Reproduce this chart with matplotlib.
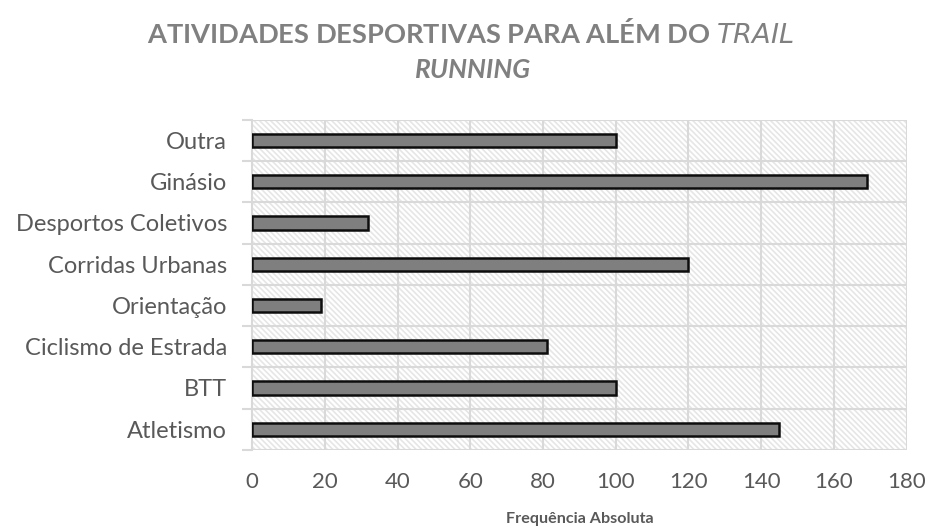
import matplotlib.pyplot as plt
from matplotlib.patches import Rectangle

# Data (bottom to top)
categories = [
    "Atletismo",
    "BTT",
    "Ciclismo de Estrada",
    "Orientação",
    "Corridas Urbanas",
    "Desportos Coletivos",
    "Ginásio",
    "Outra",
]
frequencies = [145, 100, 81, 19, 120, 32, 169, 100]
x_ticks = [0, 20, 40, 60, 80, 100, 120, 140, 160, 180]

plt.rcParams["font.family"] = ["Lato", "DejaVu Sans"]
plt.rcParams["hatch.color"] = "#e6e6e6"
plt.rcParams["hatch.linewidth"] = 1.2

fig = plt.figure(figsize=(9.27, 5.28), dpi=100)
ax = fig.add_axes([0.272, 0.148, 0.706, 0.625])

# Hatched background of the plot area
ax.add_patch(
    Rectangle(
        (0, 0), 1, 1, transform=ax.transAxes, facecolor="white",
        edgecolor="#e6e6e6", hatch="\\\\\\\\\\\\", linewidth=0, zorder=0,
    )
)

y_pos = list(range(len(categories)))
ax.barh(
    y_pos, frequencies, height=0.32, color="#7f7f7f",
    edgecolor="#0d0d0d", linewidth=1.8, zorder=3,
)

ax.set_xlim(0, 180)
ax.set_ylim(-0.5, len(categories) - 0.5)
ax.set_xticks(x_ticks)

# Category labels sit between the boundary ticks
ax.set_yticks(y_pos)
ax.set_yticklabels(categories)
ax.set_yticks([i - 0.5 for i in range(len(categories) + 1)], minor=True)

# Grid lines: at x ticks and at the category boundaries
for x in x_ticks[1:]:
    ax.axvline(x, color="#d9d9d9", linewidth=1.5, zorder=1)
for i in range(len(categories) + 1):
    ax.axhline(i - 0.5, color="#d9d9d9", linewidth=1.5, zorder=1)

for side in ["top", "right", "bottom"]:
    ax.spines[side].set_visible(False)
ax.spines["left"].set_color("#d9d9d9")
ax.spines["left"].set_linewidth(1.5)

ax.tick_params(axis="y", which="major", length=0, pad=18,
               labelsize=17, labelcolor="#595959")
ax.tick_params(axis="y", which="minor", length=7, width=1.5, color="#d9d9d9")
ax.tick_params(axis="x", length=0, pad=16, labelsize=16, labelcolor="#595959")

ax.set_xlabel("Frequência Absoluta", fontsize=11.6, fontweight="bold",
              color="#595959", labelpad=14)

fig.text(0.508, 0.938, "ATIVIDADES DESPORTIVAS PARA ALÉM DO $\\it{TRAIL}$",
         ha="center", va="center", fontsize=19.6, fontweight="bold", color="#808080")
fig.text(0.51, 0.868, "RUNNING", ha="center", va="center", fontsize=19,
         fontweight="bold", fontstyle="italic", color="#808080")

plt.savefig("out.png", dpi=100)
plt.close()
